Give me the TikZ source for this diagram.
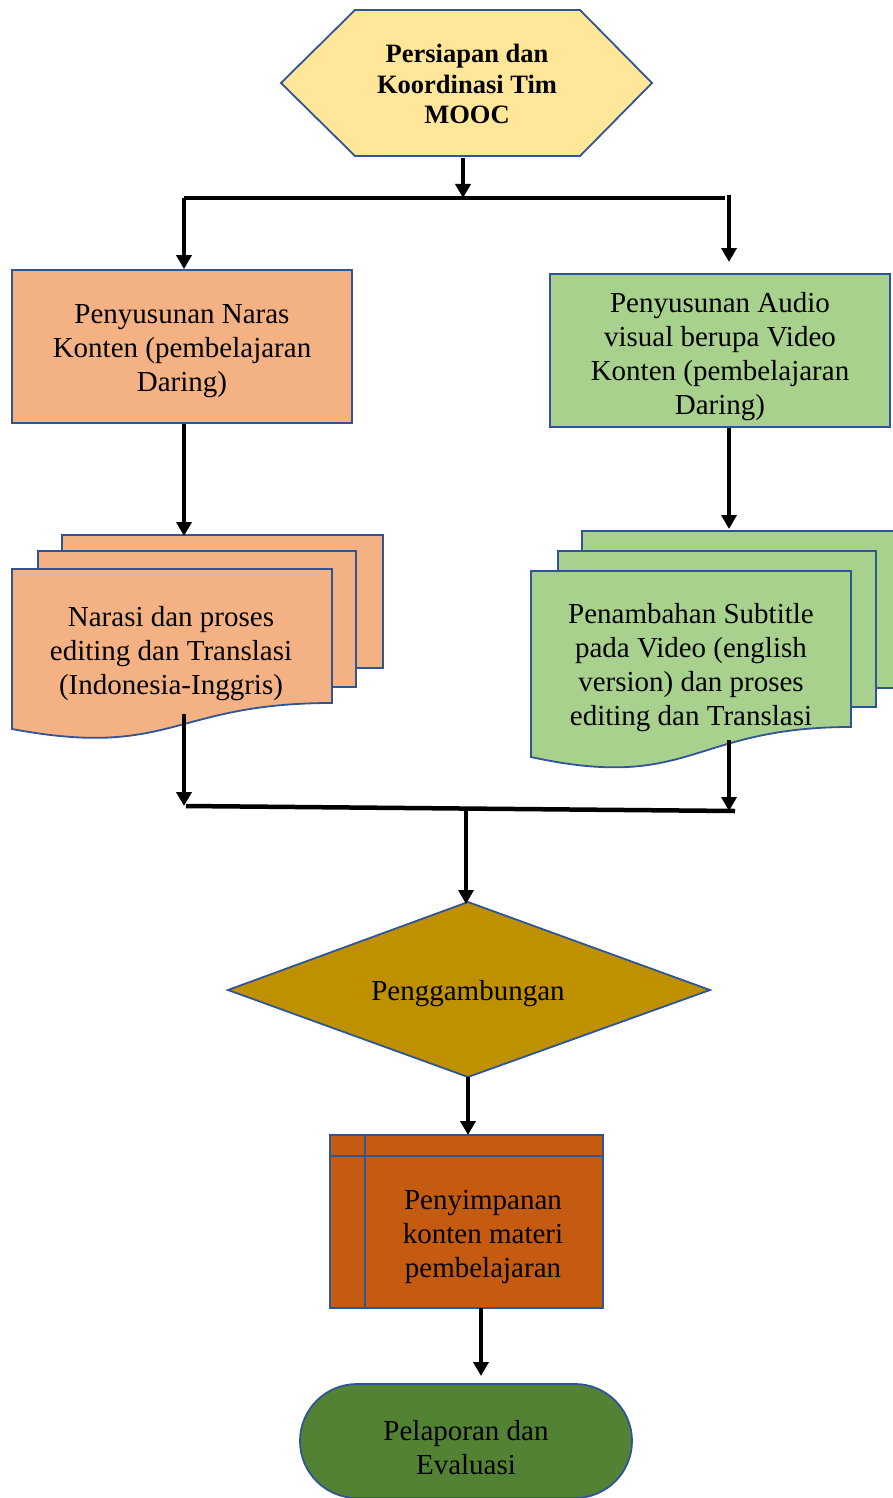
\documentclass[tikz,border=0pt]{standalone}
\usepackage{fontspec}
\setmainfont{Liberation Serif}
\usetikzlibrary{arrows.meta}
\definecolor{bord}{HTML}{2F5597}
\definecolor{hexfill}{HTML}{FFE699}
\definecolor{orangefill}{HTML}{F4B183}
\definecolor{greenfill}{HTML}{A9D18E}
\definecolor{goldfill}{HTML}{BF9000}
\definecolor{rustfill}{HTML}{C55A11}
\definecolor{darkgreenfill}{HTML}{548235}
\begin{document}
\begin{tikzpicture}[x=1pt,y=-1pt,
  shp/.style={draw=bord, line width=1.8pt},
  txt/.style={font=\fontsize{29}{34}\selectfont, align=center, inner sep=0pt},
  conn/.style={line width=4.5pt, draw=black},
  arr/.style={conn, -{Triangle[width=15pt,length=14pt]}}]
\useasboundingbox (0,0) rectangle (893,1498);

% ---- hexagon
\draw[shp, fill=hexfill] (281,83) -- (355,10) -- (580,10) -- (652,83) -- (580,156) -- (355,156) -- cycle;
\node[txt, font=\bfseries\fontsize{26.5}{30.5}\selectfont] (hex) at (467,84) {Persiapan dan\\Koordinasi Tim\\MOOC};

% ---- top rectangles
\node[shp, fill=orangefill, minimum width=340pt, minimum height=153pt, inner sep=0pt] (narasBox) at (182,346.5) {};
\node[txt] (naras) at (182,351.5) {Penyusunan Naras\\Konten (pembelajaran\\Daring)};
\node[shp, fill=greenfill, minimum width=340pt, minimum height=153pt, inner sep=0pt] (audioBox) at (720,350.5) {};
\node[txt] (audio) at (720,357) {Penyusunan Audio\\visual berupa Video\\Konten (pembelajaran\\Daring)};

% ---- left multidocument
\draw[shp, fill=orangefill] (62,551) -- (62,535) -- (383,535) -- (383,668) -- (356,668);
\draw[shp, fill=orangefill] (38,569) -- (38,551) -- (356,551) -- (356,687) -- (332,687);
\draw[shp, fill=orangefill] (12,569) -- (332,569) -- (332,703) .. controls (172,703) and (172,759) .. (12,729) -- cycle;
\node[txt] (narasi) at (171,654) {Narasi dan proses\\editing dan Translasi\\(Indonesia-Inggris)};

% ---- right multidocument
\draw[shp, fill=greenfill] (582,551) -- (582,531) -- (905,531) -- (905,688) -- (876,688);
\draw[shp, fill=greenfill] (558,571) -- (558,551) -- (876,551) -- (876,707) -- (851,707);
\draw[shp, fill=greenfill] (531,571) -- (851,571) -- (851,727) .. controls (691,727) and (691,792) .. (531,757) -- cycle;
\node[txt] (subtitle) at (691,667.5) {Penambahan Subtitle\\pada Video (english\\version) dan proses\\editing dan Translasi};

% ---- diamond
\draw[shp, fill=goldfill] (228,990) -- (468,902) -- (710,990) -- (468,1077) -- cycle;
\node[txt] (gabung) at (468,994) {Penggambungan};

% ---- internal storage
\draw[shp, fill=rustfill] (330,1135) rectangle (603,1308);
\draw[shp] (330,1156) -- (603,1156);
\draw[shp] (365,1135) -- (365,1308);
\node[txt] (simpan) at (483,1236.5) {Penyimpanan\\konten materi\\pembelajaran};

% ---- terminator
\node[shp, fill=darkgreenfill, minimum width=332pt, minimum height=114pt, rounded corners=57pt, inner sep=0pt] (termBox) at (466,1441) {};
\node[txt] (lapor) at (466,1447.5) {Pelaporan dan\\Evaluasi};

% ---- connector coordinates
\coordinate (hexS) at (463,158);
\coordinate (split) at (463,198);
\coordinate (barL) at (184,198);
\coordinate (barR) at (725,198);
\coordinate (rTop) at (729,195);
\coordinate (rTopEnd) at (729,262);
\coordinate (lDocIn) at (184,424);
\coordinate (lDocTop) at (184,536);
\coordinate (rDocIn) at (729,428);
\coordinate (rDocTop) at (729,529);
\coordinate (lDocOut) at (184,714);
\coordinate (joinL) at (186,806);
\coordinate (joinR) at (735,811);
\coordinate (lJoinTip) at (184,806);
\coordinate (rDocOut) at (729,740);
\coordinate (rJoinTip) at (729,811);
\coordinate (joinM) at (466,808);
\coordinate (diaTop) at (466,904);
\coordinate (diaBot) at (468,1077);
\coordinate (storeTop) at (468,1135);
\coordinate (storeBot) at (481,1308);
\coordinate (termTop) at (481,1376);

% ---- connectors
\draw[arr] (hexS) -- (split);
\draw[conn] (barL) -- (barR);
\draw[arr] (barL) -- (barL |- narasBox.north);
\draw[arr] (rTop) -- (rTopEnd);
\draw[arr] (lDocIn) -- (lDocTop);
\draw[arr] (rDocIn) -- (rDocTop);
\draw[arr] (lDocOut) -- (lJoinTip);
\draw[arr] (rDocOut) -- (rJoinTip);
\draw[conn] (joinL) -- (joinR);
\draw[arr] (joinM) -- (diaTop);
\draw[arr] (diaBot) -- (storeTop);
\draw[arr] (storeBot) -- (termTop);
\end{tikzpicture}
\end{document}
